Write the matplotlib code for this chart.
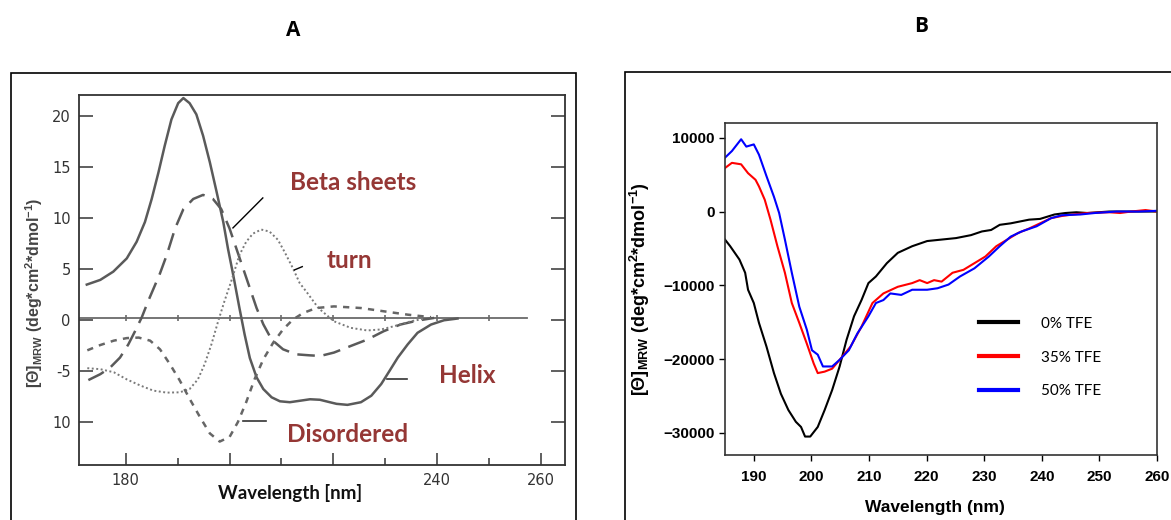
import matplotlib
matplotlib.use("Agg")
import matplotlib.pyplot as plt
from matplotlib.patches import Rectangle
from matplotlib.ticker import FixedLocator

plt.rcParams['mathtext.fontset'] = 'custom'
plt.rcParams['mathtext.rm'] = 'Liberation Sans:bold'
plt.rcParams['mathtext.it'] = 'Liberation Sans:bold'
plt.rcParams['mathtext.bf'] = 'Liberation Sans:bold'

# ---------------- Panel A data ----------------
helix_x = [172.5, 175.1, 177.6, 180.2, 182.1, 183.7, 185.0, 186.3, 187.5, 188.8, 190.1, 191.1,
           192.3, 193.6, 194.9, 196.2, 197.5, 198.8, 199.7, 200.7, 201.9, 202.9, 203.9, 205.2,
           206.5, 208.1, 209.7, 211.6, 213.5, 215.5, 217.4, 219.3, 220.6, 222.7, 225.3, 227.3,
           229.2, 230.8, 232.4, 234.3, 236.2, 238.8, 241.3, 243.9]
helix_y = [3.5, 3.96, 4.77, 6.07, 7.7, 9.64, 11.9, 14.5, 17.1, 19.7, 21.3, 21.8,
           21.3, 20.2, 18.1, 15.5, 12.6, 9.6, 7.0, 4.45, 1.2, -1.4, -3.7, -5.6,
           -6.75, -7.56, -7.95, -8.04, -7.9, -7.75, -7.8, -8.04, -8.2, -8.3, -8.04, -7.4,
           -6.26, -4.97, -3.66, -2.37, -1.23, -0.42, 0.0, 0.17]

beta_x = [172.8, 175.1, 177.0, 178.9, 180.5, 181.8, 183.1, 184.3, 185.6, 186.6, 187.9, 189.5,
          191.1, 193.0, 194.9, 196.8, 198.4, 200.0, 201.3, 202.6, 203.9, 205.2, 206.5, 208.1,
          210.3, 212.8, 215.4, 217.5, 220.1, 223.3, 226.5, 229.7, 232.9, 236.2, 239.4]
beta_y = [-5.87, -5.29, -4.64, -3.66, -2.37, -1.07, 0.3, 1.85, 3.4, 4.6, 6.4, 9.0,
          10.9, 11.9, 12.3, 11.9, 10.9, 9.0, 7.05, 5.1, 3.15, 1.2, -0.4, -1.9,
          -2.85, -3.34, -3.44, -3.5, -3.17, -2.53, -1.9, -1.07, -0.42, -0.03, 0.23]

turn_x = [172.6, 175.1, 177.7, 180.2, 182.8, 185.3, 187.9, 190.4, 192.3, 193.9, 195.2, 196.5,
          197.8, 199.0, 200.3, 201.9, 203.2, 204.5, 206.1, 207.7, 209.3, 210.6, 212.2, 213.5,
          214.8, 217.1, 220.1, 223.3, 226.5, 229.2, 231.7, 234.9, 237.5]
turn_y = [-4.7, -4.8, -5.1, -5.8, -6.4, -6.9, -7.1, -7.07, -6.75, -5.8, -4.3, -2.37,
          -0.1, 1.85, 3.8, 6.4, 7.7, 8.5, 8.9, 8.7, 7.9, 6.7, 5.1, 3.65,
          2.8, 1.2, -0.1, -0.74, -1.0, -0.9, -0.58, -0.1, 0.15]

dis_x = [172.6, 175.1, 177.7, 180.2, 182.5, 184.7, 186.6, 188.5, 190.4, 192.3, 194.3, 196.2,
         198.1, 200.0, 201.6, 203.2, 204.8, 206.5, 208.4, 210.3, 212.2, 214.2, 216.7, 220.1,
         225.3, 229.7, 234.3, 238.8]
dis_y = [-2.95, -2.43, -2.0, -1.75, -1.7, -2.0, -2.85, -4.3, -5.9, -7.7, -9.5, -11.1,
         -11.9, -11.45, -9.99, -8.04, -5.8, -3.83, -2.2, -0.9, 0.07, 0.72, 1.2, 1.36,
         1.2, 0.88, 0.55, 0.3]

base_x = [171, 257.2]
base_y = [0.25, 0.25]
base_marks = [180, 190, 200, 210, 220, 230, 240, 250]

a_xticks = [180, 200, 220, 240, 260]
a_xticklabels = ['180', '', '', '240', '260']
a_xminor = [190, 210, 230, 250]
a_yticks = [20, 15, 10, 5, 0, -5, -10]
a_yticklabels = ['20', '15', '10', '5', '0', '-5', '10']

# ---------------- Panel B data ----------------
b0_x = [185, 185.9, 187.5, 188.5, 189, 190, 190.9, 192.2, 193.5, 194.7, 196, 197.3, 198.2, 198.9,
        199.8, 201.1, 202.3, 203.6, 204.9, 206.1, 207.4, 208.7, 209.9, 211.2, 213.1, 215, 217.5,
        220.1, 222.6, 225.1, 227.7, 229.6, 231.2, 232.7, 234.6, 237.8, 239.7, 242.2, 244.1, 246,
        247.9, 251.7, 254.9, 260]
b0_y = [-3800, -4700, -6500, -8300, -10600, -12400, -15100, -18300, -21900, -24700, -26900,
        -28500, -29200, -30500, -30500, -29200, -26900, -24200, -21000, -17400, -14200, -12000,
        -9700, -8800, -7000, -5600, -4700, -4000, -3800, -3600, -3200, -2700, -2500, -1800,
        -1600, -1100, -1000, -400, -200, -100, -200, 0, 0, 0]

b35_x = [185, 186.2, 187.8, 189, 190.3, 190.9, 191.9, 192.9, 194.1, 195.4, 196.6, 197.9, 199.2,
         200.4, 201.1, 202.3, 203.6, 204.9, 206.8, 208.7, 210.6, 212.5, 215, 217.5, 218.8, 220.1,
         221.3, 222.6, 224.5, 226.4, 228.3, 230.2, 232.1, 234, 235.9, 237.8, 239.7, 241.6, 243.5,
         245.4, 247.9, 251.7, 253.6, 255.5, 258, 260]
b35_y = [5900, 6600, 6400, 5200, 4300, 3400, 1600, -1100, -4700, -8300, -12400, -15100, -17900,
         -20600, -21900, -21700, -21300, -20100, -18300, -15600, -12400, -11100, -10200, -9700,
         -9300, -9700, -9300, -9500, -8300, -7900, -7000, -6100, -4700, -3800, -2900, -2300,
         -1600, -900, -600, -400, -200, -100, -200, 0, 200, 0]

b50_x = [185, 186.2, 187.8, 188.7, 190, 190.9, 192.2, 193.5, 194.4, 195.4, 196.6, 197.9, 199.2,
         200.1, 201.1, 202, 203.6, 204.9, 206.5, 208, 209.9, 211.2, 212.5, 213.7, 215.6, 217.5,
         220.1, 221.9, 223.8, 225.8, 228.3, 230.8, 232.7, 234.6, 236.5, 239.1, 241.6, 243.5,
         246.7, 249.2, 253, 256.8, 260]
b50_y = [7300, 8200, 9800, 8800, 9100, 7700, 4800, 2000, -200, -3800, -8300, -12900, -16000,
         -18800, -19400, -21000, -21000, -20100, -18800, -16500, -14200, -12400, -12000, -11100,
         -11300, -10600, -10600, -10400, -9900, -8800, -7700, -6100, -4700, -3400, -2700, -2000,
         -900, -500, -400, -200, 0, 0, 100]

b_xticks = [190, 200, 210, 220, 230, 240, 250, 260]
b_yticks = [10000, 0, -10000, -20000, -30000]
b_labels = ['0% TFE', '35% TFE', '50% TFE']
b_colors = ['black', '#ff0000', '#0000ff']

W, H = 1171, 520
fig = plt.figure(figsize=(W / 100, H / 100), dpi=100)

def fx(px):
    return px / W

def fy(py):
    return 1 - py / H

# Outer frames
fig.patches.append(Rectangle((fx(11), -0.01), fx(576) - fx(11), fy(73) + 0.01,
                             transform=fig.transFigure, fill=False, edgecolor='black', lw=1.2))
fig.patches.append(Rectangle((fx(625), -0.01), 0.5, fy(72) + 0.01,
                             transform=fig.transFigure, fill=False, edgecolor='black', lw=1.2))

fig.text(fx(293), fy(30), 'A', ha='center', va='center', fontsize=15, fontweight='bold',
         family=['Open Sans', 'DejaVu Sans'])
fig.text(fx(921), fy(27), 'B', ha='center', va='center', fontsize=15, fontweight='bold',
         family=['Open Sans', 'DejaVu Sans'])

# ---------------- Panel A ----------------
axA = fig.add_axes([fx(79), fy(465), fx(565) - fx(79), fy(95) - fy(465)])
gray = '#5a5a5a'
axA.plot(base_x, base_y, color='#6a6a6a', lw=1.3)
axA.plot(base_marks, [base_y[0]] * len(base_marks), ls='none', marker='|', ms=4, mew=1.2,
         color='#6a6a6a')
axA.plot(helix_x, helix_y, color=gray, lw=1.8, solid_joinstyle='round')
axA.plot(beta_x, beta_y, color=gray, lw=1.8, dashes=(7, 3.5), dash_joinstyle='round')
axA.plot(turn_x, turn_y, color='#7a7a7a', lw=1.4, dashes=(1, 1.3))
axA.plot(dis_x, dis_y, color='#666666', lw=1.8, dashes=(2.5, 2.5))

# pointer lines
axA.plot([200.65, 206.4], [9.06, 12.0], color='black', lw=1)
axA.plot([212.5, 214.0], [4.94, 5.26], color='black', lw=1)
axA.plot([230.3, 234.2], [-5.77, -5.77], color='#333333', lw=1.2)
axA.plot([202.5, 207.1], [-9.9, -9.9], color='#333333', lw=1.2)

red = '#953735'
lab_kw = dict(color=red, fontsize=17.5, fontweight='bold', family=['Lato', 'DejaVu Sans'],
              ha='center', va='center')
axA.text(223.8, 13.5, 'Beta sheets', **lab_kw)
axA.text(223.1, 5.9, 'turn', **lab_kw)
axA.text(245.8, -5.45, 'Helix', **lab_kw)
axA.text(222.7, -11.2, 'Disordered', **lab_kw)

axA.set_xlim(171, 264.6)
axA.set_ylim(-14.2, 22.1)
axA.set_xticks(a_xticks)
axA.set_xticklabels(a_xticklabels)
axA.xaxis.set_minor_locator(FixedLocator(a_xminor))
axA.set_yticks(a_yticks)
axA.set_yticklabels(a_yticklabels)
axA.tick_params(axis='x', which='major', direction='in', length=9, width=1.2, color='#444444',
                labelsize=10.5, labelcolor='#333333', pad=6)
axA.tick_params(axis='x', which='minor', direction='in', length=5, width=1.2, color='#444444')
axA.tick_params(axis='y', which='major', direction='in', length=10, width=1.2, color='#444444',
                labelsize=10.5, labelcolor='#333333', right=True, pad=6)
for lbl in axA.get_xticklabels() + axA.get_yticklabels():
    lbl.set_family(['Liberation Sans Narrow', 'DejaVu Sans'])
for sp in axA.spines.values():
    sp.set_color('#333333')
    sp.set_linewidth(1.3)

axA.set_xlabel('Wavelength [nm]', fontsize=13.5, fontweight='bold', family=['Lato', 'DejaVu Sans'],
               color='#111111')
axA.xaxis.set_label_coords(0.434, -0.052)
axA.set_ylabel(r'[Θ]$_{MRW}$ (deg*cm$^{2}$*dmol$^{-1}$)', fontsize=11.5, fontweight='bold',
               family='Liberation Sans', color='#444444')
axA.yaxis.set_label_coords(-0.07, 0.465)

# ---------------- Panel B ----------------
axB = fig.add_axes([fx(725), fy(455), fx(1157) - fx(725), fy(123) - fy(455)])
for xs, ys, c, l in zip([b0_x, b35_x, b50_x], [b0_y, b35_y, b50_y], b_colors, b_labels):
    axB.plot(xs, ys, color=c, lw=1.5, label=l)
axB.set_xlim(185, 260)
axB.set_ylim(-33000, 12000)
axB.set_xticks(b_xticks)
axB.set_yticks(b_yticks)
axB.tick_params(direction='out', length=4, width=1, labelsize=11)
axB.tick_params(axis='x', pad=7)
for lbl in axB.get_xticklabels() + axB.get_yticklabels():
    lbl.set_fontweight('bold')
    lbl.set_family('Liberation Sans')
for sp in axB.spines.values():
    sp.set_color('#333333')
    sp.set_linewidth(1.2)

leg = axB.legend(loc='upper left', bbox_to_anchor=((965 - 725) / 432, (455 - 303) / 332),
                 frameon=False, handlelength=2.6, handletextpad=1.5, labelspacing=1.3,
                 prop={'family': 'Lato', 'size': 11})
for h in leg.get_lines():
    h.set_linewidth(3)

axB.set_xlabel('Wavelength (nm)', fontsize=12.5, fontweight='bold', family='Liberation Sans')
axB.xaxis.set_label_coords(0.486, -0.135)
axB.set_ylabel(r'[Θ]$_{MRW}$ (deg*cm$^{2}$*dmol$^{-1}$)', fontsize=13, fontweight='bold',
               family='Liberation Sans')
axB.yaxis.set_label_coords(-0.169, 0.5)

fig.savefig('out.png', dpi=100)
